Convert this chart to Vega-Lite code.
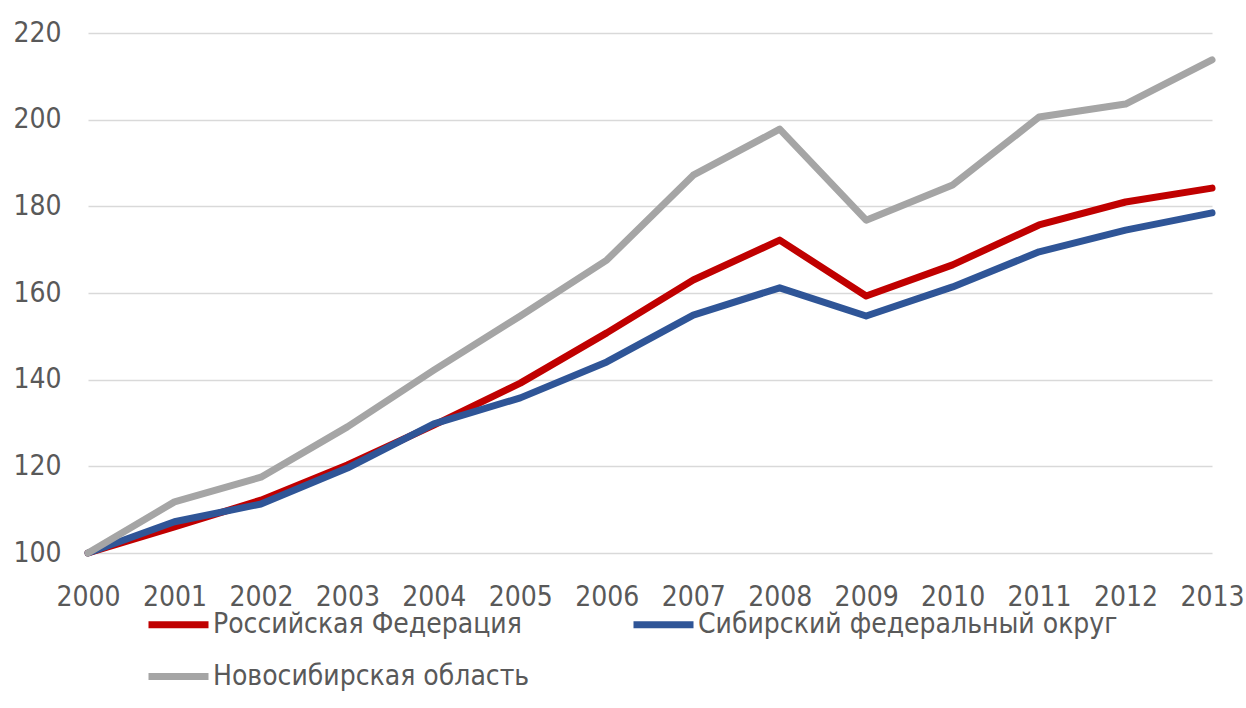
{
  "$schema": "https://vega.github.io/schema/vega-lite/v6.json",
  "width": 1124,
  "height": 520,
  "autosize": {"type": "none"},
  "padding": {"left": 88, "top": 33, "right": 34, "bottom": 155},
  "background": "white",
  "config": {
    "view": {"stroke": null},
    "font": "Liberation Sans Narrow, DejaVu Sans Condensed, sans-serif",
    "axis": {"labelFont": "Liberation Sans Narrow, DejaVu Sans Condensed, sans-serif", "labelColor": "#595959"},
    "legend": {"labelFont": "Liberation Sans Narrow, DejaVu Sans Condensed, sans-serif"}
  },
  "data": {
    "values": [
      {"year": "2000", "series": "Российская Федерация", "value": 100},
      {"year": "2001", "series": "Российская Федерация", "value": 106},
      {"year": "2002", "series": "Российская Федерация", "value": 112.2},
      {"year": "2003", "series": "Российская Федерация", "value": 120.3},
      {"year": "2004", "series": "Российская Федерация", "value": 129.5},
      {"year": "2005", "series": "Российская Федерация", "value": 139.2},
      {"year": "2006", "series": "Российская Федерация", "value": 150.8},
      {"year": "2007", "series": "Российская Федерация", "value": 163},
      {"year": "2008", "series": "Российская Федерация", "value": 172.2},
      {"year": "2009", "series": "Российская Федерация", "value": 159.3},
      {"year": "2010", "series": "Российская Федерация", "value": 166.5},
      {"year": "2011", "series": "Российская Федерация", "value": 175.7},
      {"year": "2012", "series": "Российская Федерация", "value": 181},
      {"year": "2013", "series": "Российская Федерация", "value": 184.2},
      {"year": "2000", "series": "Сибирский федеральный округ", "value": 100},
      {"year": "2001", "series": "Сибирский федеральный округ", "value": 107.2},
      {"year": "2002", "series": "Сибирский федеральный округ", "value": 111.3},
      {"year": "2003", "series": "Сибирский федеральный округ", "value": 119.6},
      {"year": "2004", "series": "Сибирский федеральный округ", "value": 129.8},
      {"year": "2005", "series": "Сибирский федеральный округ", "value": 135.8},
      {"year": "2006", "series": "Сибирский федеральный округ", "value": 144.1},
      {"year": "2007", "series": "Сибирский федеральный округ", "value": 154.9},
      {"year": "2008", "series": "Сибирский федеральный округ", "value": 161.2},
      {"year": "2009", "series": "Сибирский федеральный округ", "value": 154.7},
      {"year": "2010", "series": "Сибирский федеральный округ", "value": 161.4},
      {"year": "2011", "series": "Сибирский федеральный округ", "value": 169.5},
      {"year": "2012", "series": "Сибирский федеральный округ", "value": 174.5},
      {"year": "2013", "series": "Сибирский федеральный округ", "value": 178.5},
      {"year": "2000", "series": "Новосибирская область", "value": 100},
      {"year": "2001", "series": "Новосибирская область", "value": 111.8},
      {"year": "2002", "series": "Новосибирская область", "value": 117.5},
      {"year": "2003", "series": "Новосибирская область", "value": 129.1},
      {"year": "2004", "series": "Новосибирская область", "value": 142.2},
      {"year": "2005", "series": "Новосибирская область", "value": 154.7},
      {"year": "2006", "series": "Новосибирская область", "value": 167.6},
      {"year": "2007", "series": "Новосибирская область", "value": 187.2},
      {"year": "2008", "series": "Новосибирская область", "value": 197.8},
      {"year": "2009", "series": "Новосибирская область", "value": 176.8},
      {"year": "2010", "series": "Новосибирская область", "value": 184.9},
      {"year": "2011", "series": "Новосибирская область", "value": 200.6},
      {"year": "2012", "series": "Новосибирская область", "value": 203.6},
      {"year": "2013", "series": "Новосибирская область", "value": 213.8}
    ]
  },
  "mark": {"type": "line", "strokeWidth": 7, "strokeCap": "round", "strokeJoin": "round"},
  "encoding": {
    "x": {
      "field": "year", "type": "ordinal",
      "scale": {"type": "point", "padding": 0},
      "axis": {"title": null, "labelAngle": 0, "labelFontSize": 28, "labelPadding": 30, "domain": false, "ticks": false, "grid": false}
    },
    "y": {
      "field": "value", "type": "quantitative",
      "scale": {"domain": [100, 220], "nice": false, "zero": false},
      "axis": {"title": null, "values": [100, 120, 140, 160, 180, 200, 220], "labelFontSize": 28, "labelPadding": 27, "domain": false, "ticks": false, "gridColor": "#D9D9D9", "gridWidth": 1.5}
    },
    "color": {
      "field": "series", "type": "nominal",
      "scale": {
        "domain": ["Российская Федерация", "Сибирский федеральный округ", "Новосибирская область"],
        "range": ["#C00000", "#2F5597", "#A5A5A5"]
      },
      "legend": {
        "title": null, "orient": "none", "legendX": 57, "legendY": 558,
        "columns": 2, "direction": "horizontal",
        "symbolType": "stroke", "symbolStrokeWidth": 7, "symbolSize": 3600,
        "labelFontSize": 28, "labelColor": "#595959", "labelOffset": 1,
        "columnPadding": 89, "rowPadding": 4, "labelLimit": 600
      }
    }
  }
}
